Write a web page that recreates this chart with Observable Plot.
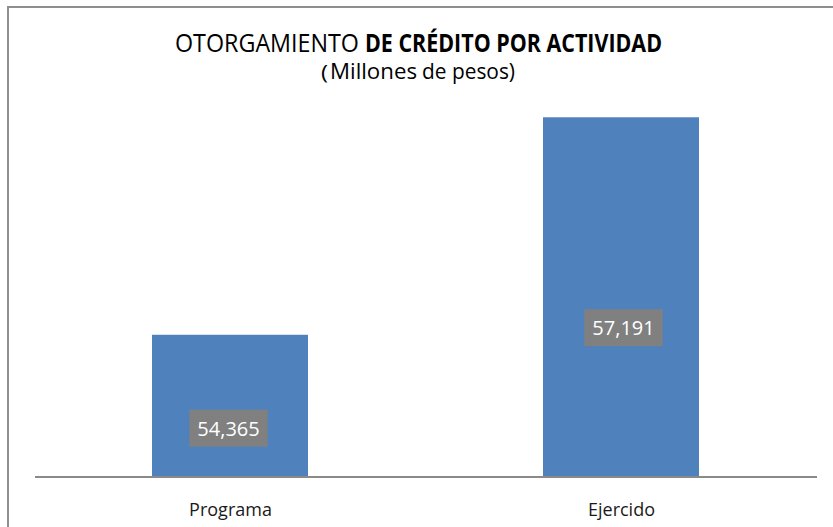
<!DOCTYPE html>
<html>
<head>
<meta charset="utf-8">
<script src="https://cdn.jsdelivr.net/npm/d3@7"></script>
<script src="https://cdn.jsdelivr.net/npm/@observablehq/plot@0.6"></script>
<style>
  html, body { margin: 0; padding: 0; background: #fff; overflow: hidden; }
  #wrap { position: relative; width: 833px; height: 527px; overflow: hidden; background: #fff; }
  #frame { position: absolute; left: 7px; top: 6px; width: 826px; height: 521px; border-left: 2px solid #8f8f8f; border-top: 2px solid #8f8f8f; box-sizing: border-box; }
  #chart { position: absolute; left: 0; top: 0; }
  #title { position: absolute; left: 0; top: 0; pointer-events: none; }
</style>
</head>
<body>
<div id="wrap">
  <div id="frame"></div>
  <div id="chart"></div>
  <svg id="title" width="833" height="100" xmlns="http://www.w3.org/2000/svg" font-family="'Open Sans', sans-serif" fill="#000">
    <text x="175" y="52" font-size="25" textLength="184" lengthAdjust="spacingAndGlyphs">OTORGAMIENTO</text>
    <text x="365" y="52" font-size="25" font-weight="bold" textLength="297" lengthAdjust="spacingAndGlyphs">DE CRÉDITO POR ACTIVIDAD</text>
    <text x="321" y="79" font-size="20" textLength="7" lengthAdjust="spacingAndGlyphs">(</text>
    <text x="330" y="79" font-size="21" textLength="87" lengthAdjust="spacingAndGlyphs">Millones</text>
    <text x="422" y="79" font-size="21" textLength="93" lengthAdjust="spacingAndGlyphs">de pesos)</text>
  </svg>
</div>
<script>
const categories = ["Programa", "Ejercido"];
const values = [54365, 57191];

const yMin = 52530;
const yMax = 58000;

const data = categories.map((c, i) => ({category: c, value: values[i]}));
const fmt = d3.format(",");

const svg = Plot.plot({
  width: 833,
  height: 527,
  marginLeft: 35,
  marginRight: 16,
  marginTop: 55,
  marginBottom: 51,
  style: {fontFamily: "'Open Sans', sans-serif", fontSize: "18px", color: "#1a1a1a", background: "transparent", overflow: "visible"},
  x: {domain: categories, paddingInner: 0.6, paddingOuter: 0.3, tickSize: 0, tickPadding: 27, label: null},
  y: {domain: [yMin, yMax], axis: null},
  marks: [
    Plot.barY(data, {x: "category", y1: d => yMin, y2: "value", fill: "#4f81bd"}),
    Plot.ruleY([yMin], {stroke: "#8a8a8a", strokeWidth: 2, dy: 0.5}),
    Plot.text(data, {filter: d => d.category === "Programa", x: "category", y: "value", text: d => fmt(d.value), dy: 94, dx: -2, fill: "white", fontSize: 20}),
    Plot.text(data, {filter: d => d.category === "Ejercido", x: "category", y: "value", text: d => fmt(d.value), dy: 211, dx: 2, fill: "white", fontSize: 20})
  ]
});
document.getElementById("chart").appendChild(svg);

// gray boxes behind the value labels
svg.querySelectorAll('g[aria-label="text"] text').forEach(t => {
  const b = t.getBBox();
  const r = document.createElementNS("http://www.w3.org/2000/svg", "rect");
  r.setAttribute("x", b.x - 8);
  r.setAttribute("y", b.y - 5);
  r.setAttribute("width", b.width + 16);
  r.setAttribute("height", b.height + 10);
  r.setAttribute("fill", "#808080");
  const tr = t.getAttribute("transform");
  if (tr) r.setAttribute("transform", tr);
  t.parentNode.insertBefore(r, t);
});
</script>
</body>
</html>
